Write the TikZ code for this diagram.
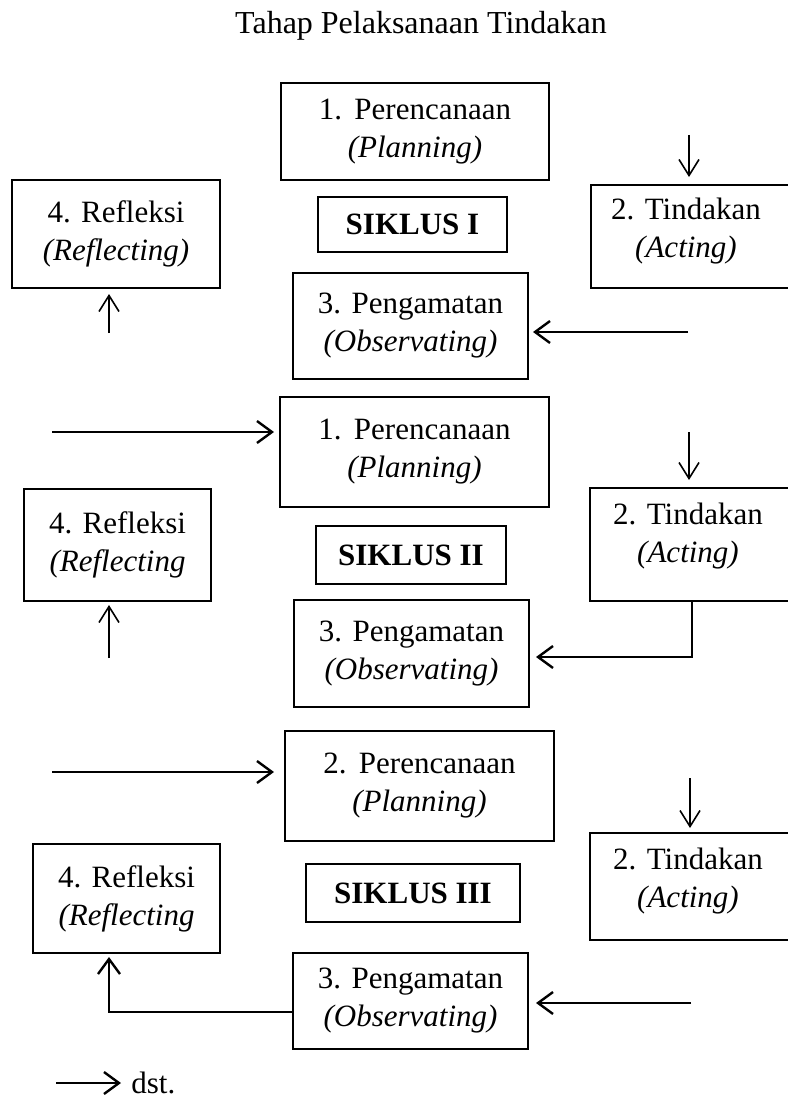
\documentclass[tikz,border=0pt]{standalone}
\usepackage{fontspec}
\setmainfont{Liberation Serif}
\usetikzlibrary{arrows.meta}
\begin{document}
\begin{tikzpicture}[x=0.5pt,y=-0.5pt,
  every node/.style={font=\fontsize{15.5}{19}\selectfont, inner sep=0pt},
  box/.style={draw, line width=1pt, align=center, rectangle},
  lbl/.style={align=center},
  arr/.style={line width=1.2pt, -{Straight Barb[length=7.5pt,width=11pt,line width=1.2pt]}},
  varr/.style={line width=0.8pt, -{Straight Barb[length=8pt,width=10pt,line width=0.8pt]}}]
\useasboundingbox (0,0) rectangle (787,1097);

\node[font=\fontsize{16}{19}\selectfont] (title) at (421,26) {Tahap Pelaksanaan Tindakan};

% ---------- SIKLUS I ----------
\node[box, minimum width=134pt, minimum height=48.5pt] (p1) at (415,131.5) {1.\hspace{0.4em}Perencanaan\\\textit{(Planning)}};
\node[box, minimum width=104pt, minimum height=54pt] (r1) at (116,234) {4. Refleksi\\\textit{(Reflecting)}};
\node[box, minimum width=94.5pt, minimum height=27.5pt] (s1) at (412.5,224.5) {\textbf{SIKLUS I}};
\node[box, minimum width=110pt, minimum height=51.5pt] (t1) at (701,236.5) {};
\node[lbl] (t1txt) at (686,231) {2. Tindakan\\\textit{(Acting)}};
\node[box, minimum width=117.5pt, minimum height=53pt] (o1) at (410.5,326) {3. Pengamatan\\\textit{(Observating)}};

% ---------- SIKLUS II ----------
\node[box, minimum width=134.5pt, minimum height=55pt] (p2) at (414.5,452) {1.\hspace{0.4em}Perencanaan\\\textit{(Planning)}};
\node[box, minimum width=93.5pt, minimum height=56pt] (r2) at (117.5,545) {4. Refleksi\\\textit{(Reflecting}};
\node[box, minimum width=95pt, minimum height=29pt] (s2) at (411,555) {\textbf{SIKLUS II}};
\node[box, minimum width=110pt, minimum height=56.5pt] (t2) at (700,544.5) {};
\node[lbl] (t2txt) at (688,536) {2. Tindakan\\\textit{(Acting)}};
\node[box, minimum width=117.5pt, minimum height=53.5pt] (o2) at (411.5,653.5) {3. Pengamatan\\\textit{(Observating)}};

% ---------- SIKLUS III ----------
\node[box, minimum width=134.5pt, minimum height=55pt] (p3) at (419.5,786) {2.\hspace{0.4em}Perencanaan\\\textit{(Planning)}};
\node[box, minimum width=93.5pt, minimum height=54.5pt] (r3) at (126.5,898.5) {4. Refleksi\\\textit{(Reflecting}};
\node[box, minimum width=107pt, minimum height=29pt] (s3) at (413,893) {\textbf{SIKLUS III}};
\node[box, minimum width=110pt, minimum height=53.5pt] (t3) at (700,886.5) {};
\node[lbl] (t3txt) at (688,881) {2. Tindakan\\\textit{(Acting)}};
\node[box, minimum width=117.5pt, minimum height=48pt] (o3) at (410.5,1001) {3. Pengamatan\\\textit{(Observating)}};

\node[anchor=base west] (dst) at (131,1093) {dst.};

% ---------- connectors ----------
\coordinate (a1s) at (689,135); \coordinate (a1e) at (689,177);
\draw[varr] (a1s) -- (a1e);
\coordinate (a2s) at (688,332);
\draw[arr] (a2s) -- ([xshift=2pt]a2s -| o1.east);
\coordinate (a3s) at (109,333); \coordinate (a3e) at (109,294);
\draw[varr] (a3s) -- (a3e);

\coordinate (a4s) at (52,432);
\draw[arr] (a4s) -- ([xshift=-2.5pt]a4s -| p2.west);
\coordinate (a5s) at (689,432); \coordinate (a5e) at (689,480);
\draw[varr] (a5s) -- (a5e);
\coordinate (a6s) at (109,658);
\draw[varr] (a6s) -- ([yshift=-1.5pt]a6s |- r2.south);
\coordinate (a7) at (692,657);
\draw[arr] (t2.south -| a7) |- ([xshift=3pt]a7 -| o2.east);

\coordinate (a8s) at (52,772);
\draw[arr] (a8s) -- ([xshift=-5pt]a8s -| p3.west);
\coordinate (a9s) at (690,778); \coordinate (a9e) at (690,828);
\draw[varr] (a9s) -- (a9e);
\coordinate (a10s) at (691,1003);
\draw[arr] (a10s) -- ([xshift=3.5pt]a10s -| o3.east);
\coordinate (a11) at (109,1012);
\draw[arr] (a11 -| o3.west) -| ([yshift=-1.5pt]r3.south -| a11);

\coordinate (a12s) at (56,1083);
\draw[arr] (a12s) -- ([xshift=-5pt]a12s -| dst.west);
\end{tikzpicture}
\end{document}
